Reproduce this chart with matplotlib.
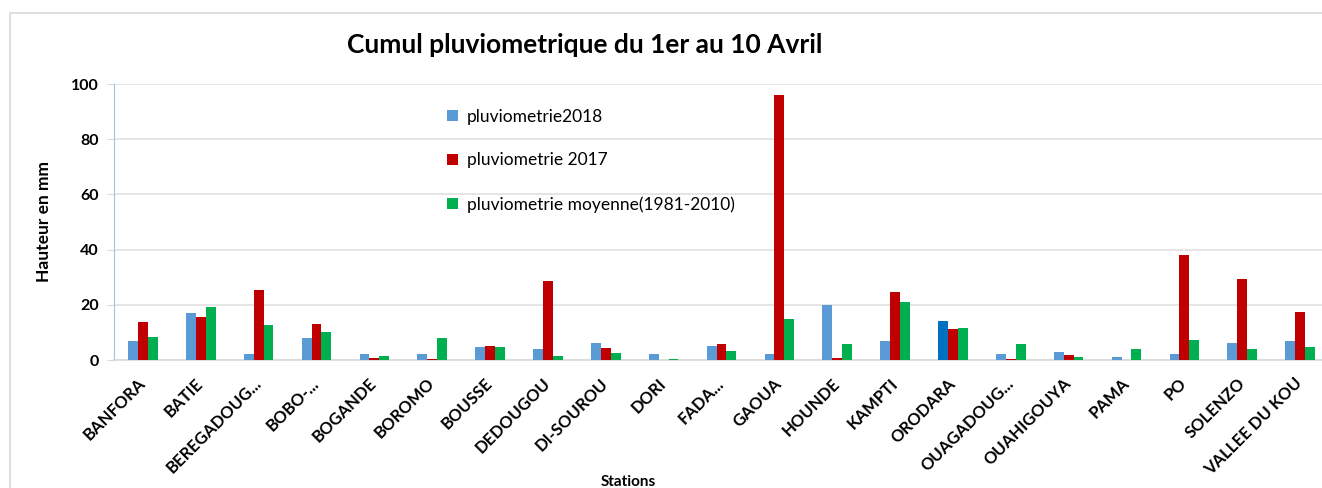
import matplotlib.pyplot as plt
import matplotlib.patches as mpatches
import numpy as np

stations = ["BANFORA", "BATIE", "BEREGADOUG...", "BOBO-...", "BOGANDE", "BOROMO",
            "BOUSSE", "DEDOUGOU", "DI-SOUROU", "DORI", "FADA...", "GAOUA",
            "HOUNDE", "KAMPTI", "ORODARA", "OUAGADOUG...", "OUAHIGOUYA", "PAMA",
            "PO", "SOLENZO", "VALLEE DU KOU"]
pluvio_2018 = [6.9, 17.1, 2.2, 8.1, 2.2, 2.2, 4.6, 3.9, 6.0, 2.2, 5.2, 2.2,
               19.9, 6.9, 14.3, 2.2, 3.0, 1.0, 2.2, 6.0, 6.9]
pluvio_2017 = [13.9, 15.7, 25.2, 13.0, 0.7, 0.4, 5.2, 28.7, 4.5, 0.0, 5.8, 96.1,
               0.7, 24.6, 11.4, 0.4, 1.8, 0.0, 38.2, 29.3, 17.4]
pluvio_moy = [8.3, 19.2, 12.6, 10.1, 1.6, 8.1, 4.7, 1.6, 2.4, 0.4, 3.4, 14.9,
              5.8, 21.0, 11.7, 5.7, 1.2, 3.9, 7.1, 4.0, 4.6]

labels = ["pluviometrie2018", "pluviometrie 2017", "pluviometrie moyenne(1981-2010)"]
colors = ["#5B9BD5", "#C00000", "#00B050"]

plt.rcParams['font.family'] = ['Lato', 'DejaVu Sans']

W, H = 1322, 488
fig = plt.figure(figsize=(W / 100, H / 100), dpi=100)

# chart border (cut off on right and bottom)
fig.patches.append(mpatches.Rectangle((10 / W, -0.1), 1.2, (H - 13) / H + 0.1,
                                      transform=fig.transFigure, fill=False,
                                      edgecolor="#D9D9D9", lw=1.2))

ax = fig.add_axes([114 / W, (H - 360) / H, (1329 - 114) / W, 276 / H])

x = np.arange(len(stations))
w = 0.17
blue_cols = [colors[0]] * len(stations)
blue_cols[stations.index("ORODARA")] = "#0070C0"
ax.bar(x - w, pluvio_2018, w, color=blue_cols, label=labels[0], zorder=3)
ax.bar(x, pluvio_2017, w, color=colors[1], label=labels[1], zorder=3)
ax.bar(x + w, pluvio_moy, w, color=colors[2], label=labels[2], zorder=3)

ax.set_xlim(-0.5, len(stations) - 0.5)
ax.set_ylim(0, 100)
ax.set_yticks(range(0, 101, 20))
ax.grid(axis='y', color="#E0E0E0", lw=1.2, zorder=0)
for s in ["top", "right"]:
    ax.spines[s].set_visible(False)
ax.spines["left"].set_color("#9DC3E6")
ax.spines["bottom"].set_color("#D9D9D9")
ax.spines["bottom"].set_linewidth(1.2)
ax.tick_params(axis='y', length=5, color="#D9D9D9", labelsize=11.5, pad=6)
ax.tick_params(axis='x', length=0, labelsize=12, pad=15)
for t in ax.get_yticklabels():
    t.set_fontweight("bold")

ax.set_xticks(x)
ax.set_xticklabels(stations, rotation=45, ha='right', va='center',
                   rotation_mode='anchor', fontweight='bold')

ax.set_ylabel("Hauteur en mm", fontsize=12.5, fontweight='bold', labelpad=14)
fig.text(628 / W, 1 - 482 / H, "Stations", ha='center', va='center',
         fontsize=11, fontweight='bold')
fig.text(585 / W, 1 - 45 / H, "Cumul pluviometrique du 1er au 10 Avril",
         ha='center', va='center', fontsize=19, fontweight='bold')

ax.legend(loc='upper left', bbox_to_anchor=((431 - 114) / 1215, 1 - (93 - 84) / 276),
          frameon=False, fontsize=12.5, labelspacing=1.6, handlelength=0.65,
          handleheight=0.65, handletextpad=0.5)

fig.savefig("out.png", dpi=100)
